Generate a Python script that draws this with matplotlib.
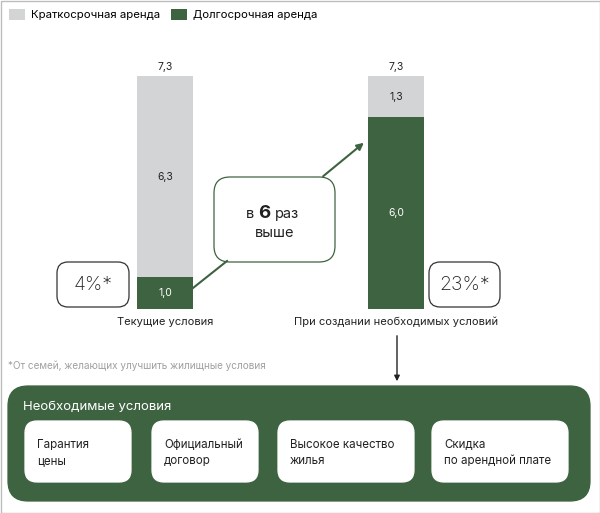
import matplotlib.pyplot as plt
from matplotlib.patches import FancyBboxPatch, Rectangle

# data
categories = ['Текущие условия', 'При создании необходимых условий']
long_term = [1.0, 6.0]
short_term = [6.3, 1.3]
totals = [7.3, 7.3]
shares = ['4%*', '23%*']
series_names = ['Краткосрочная аренда', 'Долгосрочная аренда']
conditions = ['Гарантия\nцены', 'Официальный\nдоговор', 'Высокое качество\nжилья',
              'Скидка\nпо арендной плате']
footnote = '*От семей, желающих улучшить жилищные условия'

GREEN = '#3e6340'
GRAY = '#d2d4d6'
FONT = ['Inter', 'DejaVu Sans']
plt.rcParams['font.family'] = FONT

W, H = 600, 513
fig = plt.figure(figsize=(W / 100, H / 100), dpi=100)

# overlay axes in pixel coordinates
ax0 = fig.add_axes([0, 0, 1, 1])
ax0.set_xlim(0, W)
ax0.set_ylim(H, 0)
ax0.axis('off')

# bar axes
top, bottom = 76, 309
c0, c1 = 165, 396
d = c1 - c0
ax = fig.add_axes([0, (H - bottom) / H, 1, (bottom - top) / H])
ax.set_xlim(-c0 / d, 1 + (W - c1) / d)
ax.set_ylim(0, 7.3)
ax.axis('off')
x = [0, 1]
w = 56 / d
b_long = ax.bar(x, long_term, w, color=GREEN, label=series_names[1])
b_short = ax.bar(x, short_term, w, bottom=long_term, color=GRAY, label=series_names[0])
for i in x:
    ax.text(i, long_term[i] / 2, f'{long_term[i]:.1f}'.replace('.', ','),
            ha='center', va='center', color='white', fontsize=7.5)
    ax.text(i, long_term[i] + short_term[i] / 2, f'{short_term[i]:.1f}'.replace('.', ','),
            ha='center', va='center', color='#222222', fontsize=7.5)
    ax.text(i, totals[i] + 0.28, f'{totals[i]:.1f}'.replace('.', ','),
            ha='center', va='center', color='#222222', fontsize=7.5)
    ax.text(i, -0.4, categories[i], ha='center', va='center', color='#222222', fontsize=8)

# legend
fig.legend(handles=[b_short, b_long], labels=series_names, loc='upper left',
           bbox_to_anchor=(0.0, 1.0), borderaxespad=0.35, borderpad=0.4,
           ncol=2, frameon=False, fontsize=8.2,
           handlelength=1.45, handleheight=1.15, handletextpad=0.5, columnspacing=0.95)

def rbox(x0, y0, x1, y1, r, fc, ec, lw=0.9):
    p = FancyBboxPatch((x0, y0), x1 - x0, y1 - y0,
                       boxstyle=f'round,pad=0,rounding_size={r}',
                       fc=fc, ec=ec, lw=lw)
    ax0.add_patch(p)

# share boxes
rbox(57, 262, 129, 307, 11, 'white', '#333333')
ax0.text(93, 285, shares[0], ha='center', va='center', fontsize=14,
         fontweight='light', color='#222222')
rbox(429, 262, 500, 307, 11, 'white', '#333333')
ax0.text(464.5, 285, shares[1], ha='center', va='center', fontsize=14,
         fontweight='light', color='#222222')

# connector lines
ax0.plot([193, 227], [288, 261], color=GREEN, lw=1.5)
ax0.annotate('', xy=(366, 141), xytext=(321, 178),
             arrowprops=dict(arrowstyle='-|>', color=GREEN, lw=1.5, mutation_scale=10))
rbox(214, 177, 335, 262, 16, 'white', GREEN)
ax0.text(254, 218, 'в', ha='right', va='baseline', fontsize=10.5, color='#222222')
ax0.text(264.5, 218, '6', ha='center', va='baseline', fontsize=13.5, fontweight='bold',
         color='#222222')
ax0.text(274.5, 218, 'раз', ha='left', va='baseline', fontsize=10.5, color='#222222')
ax0.text(275, 233, 'выше', ha='center', va='center', fontsize=10.5, color='#222222')

# footnote
ax0.text(8, 366, footnote, ha='left', va='center', fontsize=7.2, color='#a0a0a0')

# down arrow
ax0.annotate('', xy=(397, 384), xytext=(397, 333),
             arrowprops=dict(arrowstyle='-|>', color='#222222', lw=1.0, mutation_scale=8))

# conditions panel
rbox(8, 386, 590, 501, 20, GREEN, GREEN)
ax0.text(23, 407, 'Необходимые условия', ha='left', va='center', fontsize=9.5, color='white')
xs = [(25, 131), (152, 258), (278, 414), (432, 568)]
for (xa, xb), txt in zip(xs, conditions):
    rbox(xa, 421, xb, 482, 12, 'white', 'white')
    ax0.text(xa + 12, 453, txt, ha='left', va='center', fontsize=8.3,
             color='#222222', linespacing=1.5)

# outer border
ax0.add_patch(Rectangle((0.5, 0.5), W - 1, H - 1, fill=False, ec='#bdbdbd', lw=1))

fig.savefig('out.png', dpi=100)
